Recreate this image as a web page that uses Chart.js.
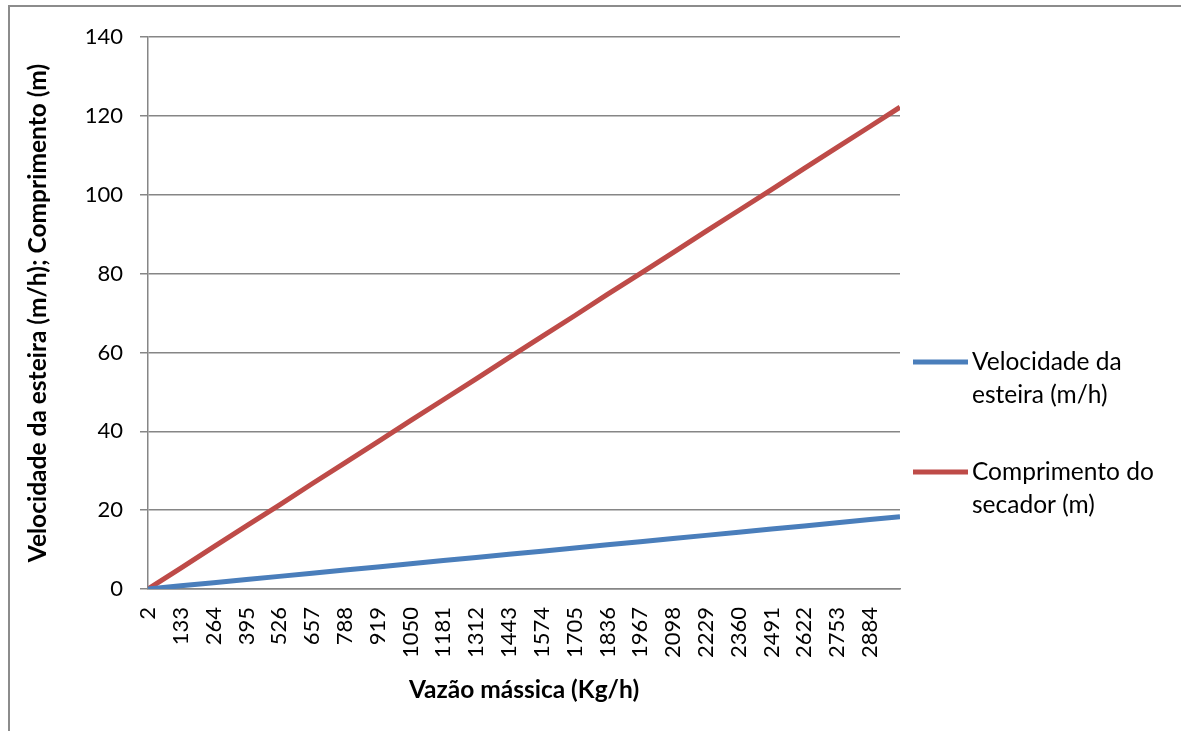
<!DOCTYPE html>
<html><head><meta charset="utf-8">
<script src="https://cdn.jsdelivr.net/npm/chart.js@4/dist/chart.umd.min.js"></script>
<style>
html,body{margin:0;padding:0;background:#fff;}
#wrap{position:relative;width:1181px;height:731px;overflow:hidden;}
#frame{position:absolute;left:8px;top:5px;width:1300px;height:900px;border-left:2px solid #8c8c8c;border-top:2px solid #8c8c8c;box-sizing:border-box}
canvas{position:absolute;left:0;top:0}
</style></head><body>
<div id="wrap"><div id="frame"></div><canvas id="c" width="1181" height="731"></canvas></div>
<script>
// Mass flow (kg/h) at which values were read
const massFlow = [2,133,264,395,526,657,788,919,1050,1181,1312,1443,1574,1705,1836,1967,2098,2229,2360,2491,2622,2753,2884,3004];
// Category tick labels shown on the x axis
const tickLabels = [2,133,264,395,526,657,788,919,1050,1181,1312,1443,1574,1705,1836,1967,2098,2229,2360,2491,2622,2753,2884];
// Velocidade da esteira (m/h)
const beltSpeed = [0,0.8,1.6,2.4,3.2,4.0,4.8,5.6,6.4,7.2,8.0,8.8,9.6,10.4,11.2,12.0,12.8,13.6,14.4,15.2,16.0,16.8,17.6,18.3];
// Comprimento do secador (m)
const dryerLength = [0,5.3,10.7,16.0,21.3,26.7,32.0,37.3,42.7,48.0,53.3,58.7,64.0,69.3,74.7,80.0,85.3,90.7,96.0,101.3,106.7,112.0,117.3,122.2];
const seriesNames = ['Velocidade da esteira (m/h)','Comprimento do secador (m)'];
const legendLines = [['Velocidade da','esteira (m/h)'],['Comprimento do','secador (m)']];
const yTitle = 'Velocidade da esteira (m/h); Comprimento (m)';
const xTitle = 'Vazão mássica (Kg/h)';

const FONT = 'Lato';
const legendPlugin = {
  id:'sideLegend',
  afterDraw(chart){
    const ctx = chart.ctx;
    const ys = [362, 472];
    chart.data.datasets.forEach((ds,i)=>{
      const y0 = ys[i];
      ctx.save();
      ctx.strokeStyle = ds.borderColor;
      ctx.lineWidth = 5;
      ctx.beginPath(); ctx.moveTo(913,y0); ctx.lineTo(968,y0); ctx.stroke();
      ctx.fillStyle = '#000';
      ctx.font = '24.5px ' + FONT;
      ctx.textBaseline = 'middle';
      ctx.textAlign = 'left';
      legendLines[i].forEach((t,j)=>ctx.fillText(t, 972, y0 + j*33));
      ctx.restore();
    });
  }
};

new Chart(document.getElementById('c'), {
  type:'line',
  data:{
    datasets:[
      {label:seriesNames[0], data:massFlow.map((x,i)=>({x, y:beltSpeed[i]})), borderColor:'#4A7EBB', backgroundColor:'#4A7EBB', borderWidth:5, pointRadius:0, tension:0},
      {label:seriesNames[1], data:massFlow.map((x,i)=>({x, y:dryerLength[i]})), borderColor:'#BE4B48', backgroundColor:'#BE4B48', borderWidth:5, pointRadius:0, tension:0}
    ]
  },
  options:{
    responsive:false, animation:false, devicePixelRatio:1,
    layout:{padding:{top:37,right:281,left:0,bottom:0}},
    plugins:{legend:{display:false}, tooltip:{enabled:false}},
    scales:{
      x:{
        type:'linear', min:massFlow[0], max:massFlow[massFlow.length-1],
        afterBuildTicks(s){ s.ticks = tickLabels.map(v=>({value:v})); },
        afterFit(s){ s.height = 142; },
        grid:{display:false},
        border:{display:true, color:'#868686', width:1.5},
        ticks:{autoSkip:false, minRotation:90, maxRotation:90, padding:10, color:'#000', font:{family:FONT,size:22}, callback:(v)=>String(v)},
        title:{display:true, text:xTitle, color:'#000', font:{family:FONT,size:24.5,weight:'bold'}, padding:{top:0,bottom:26.5}}
      },
      y:{
        min:0, max:140,
        afterFit(s){ s.width = 148; },
        grid:{color:'#868686', lineWidth:1.5, tickLength:8},
        border:{display:true, color:'#868686', width:1.5},
        ticks:{stepSize:20, padding:17, color:'#000', font:{family:FONT,size:22}},
        title:{display:true, text:yTitle, color:'#000', font:{family:FONT,size:24.5,weight:'bold'}, padding:{top:23,bottom:0}}
      }
    }
  },
  plugins:[legendPlugin]
});
</script>
</body></html>
